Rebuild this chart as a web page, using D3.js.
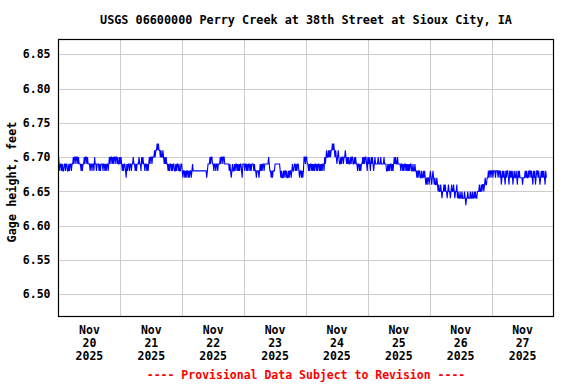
<!DOCTYPE html>
<html><head><meta charset="utf-8">
<script src="https://cdn.jsdelivr.net/npm/d3@7/dist/d3.min.js"></script>
<style>
html,body{margin:0;padding:0;background:#fff;}
text{font-family:"DejaVu Sans Mono","Liberation Mono",monospace;font-weight:bold;}
</style></head>
<body><svg id="chart" width="576" height="384"></svg>
<script>
const title = "USGS 06600000 Perry Creek at 38th Street at Sioux City, IA";
const yLabel = "Gage height, feet";
const footnote = "---- Provisional Data Subject to Revision ----";
const yTicks = [6.50, 6.55, 6.60, 6.65, 6.70, 6.75, 6.80, 6.85];
const dayLabels = [["Nov","20","2025"],["Nov","21","2025"],["Nov","22","2025"],["Nov","23","2025"],["Nov","24","2025"],["Nov","25","2025"],["Nov","26","2025"],["Nov","27","2025"]];
const startTime = Date.UTC(2025, 10, 20, 0, 0);
const endTime = Date.UTC(2025, 10, 28, 0, 0);
const stepMinutes = 15;
// gage height, feet, 15-minute values starting Nov 20 2025 00:00
const gageHeight = [
// Nov 20
6.70,6.69,6.68,6.69,6.69,6.68,6.69,6.68,6.68,6.69,6.69,6.68,6.69,6.69,6.68,6.68,6.69,6.68,6.69,6.69,6.68,6.69,6.69,
6.70,6.69,6.70,6.70,6.69,6.70,6.70,6.69,6.70,6.69,
6.69,6.69,6.68,6.69,6.68,6.69,6.69,
6.70,6.69,6.70,6.70,6.69,6.70,6.69,6.69,
6.69,6.68,6.69,6.69,6.68,6.69,6.69,6.68,
6.70,
6.69,6.69,6.68,6.69,6.69,6.69,6.68,6.69,6.68,6.69,6.69,6.69,6.68,6.69,6.69,6.68,6.69,6.68,6.69,6.69,6.68,6.69,
6.70,6.69,6.70,6.70,6.69,6.70,6.69,6.70,6.70,6.69,6.70,6.70,6.69,6.70,6.69,6.69,6.70,
// Nov 21
6.69,6.70,6.69,6.68,6.69,6.68,6.69,6.69,6.68,6.67,6.69,6.68,6.69,
6.69,6.68,6.69,6.69,6.68,6.69,6.69,6.70,6.69,6.69,6.68,6.69,6.68,6.69,6.69,6.69,6.70,6.69,6.69,6.68,
6.70,6.69,6.70,6.69,
6.69,6.68,6.69,6.69,6.68,6.69,6.68,6.69,
6.70,6.69,6.70,6.70,6.69,6.70,6.70,6.70,
6.71,6.70,6.71,6.71,6.72,6.71,6.72,6.71,
6.71,6.70,6.71,6.70,6.70,6.71,6.70,
6.69,6.70,6.69,6.70,6.69,
6.69,6.68,6.69,6.68,6.69,6.69,6.68,6.69,6.68,6.69,6.69,6.68,6.68,6.69,6.68,6.69,6.69,6.68,6.69,6.68,6.68,6.69,6.69,
// Nov 22
6.68,6.67,6.68,6.68,6.67,6.68,6.67,6.68,6.68,6.67,6.68,6.67,6.68,6.68,6.67,6.68,
6.69,6.68,6.68,6.68,6.68,6.68,6.68,6.68,6.68,6.68,6.68,6.68,6.68,6.68,6.68,6.68,6.68,6.68,6.68,6.68,6.68,6.68,6.67,
6.68,6.69,6.69,6.69,6.70,6.69,6.70,6.70,6.69,6.69,6.68,6.69,6.69,6.68,6.69,6.69,6.68,6.69,6.69,6.69,6.70,6.69,6.70,6.70,6.69,6.70,6.70,
6.69,6.69,6.69,6.69,6.69,6.69,6.69,
6.68,6.69,6.68,6.67,6.68,6.69,6.68,6.68,
6.69,6.68,6.69,6.69,6.68,6.69,6.68,6.69,6.68,6.69,6.69,6.68,6.67,6.69,6.69,
// Nov 23
6.69,6.68,6.69,6.69,6.68,6.69,6.68,6.69,6.69,6.68,6.69,6.68,6.69,6.69,6.69,6.68,6.69,
6.68,6.68,6.67,6.68,6.68,6.68,6.67,6.68,
6.69,6.68,6.69,6.68,6.69,6.69,6.68,6.69,
6.69,6.69,6.69,6.69,6.69,6.70,6.69,
6.68,6.68,6.67,6.68,6.67,6.68,6.68,6.68,
6.69,6.69,6.69,6.69,6.69,6.69,6.69,6.69,
6.68,6.67,6.68,6.67,6.67,6.68,6.67,6.68,6.68,6.67,6.68,6.67,6.67,6.68,6.67,6.68,6.68,6.67,
6.68,6.69,6.68,6.68,6.69,6.69,6.68,6.69,6.68,6.69,6.69,
6.68,6.67,6.68,6.68,6.67,6.68,6.67,6.68,
6.70,6.70,6.69,
// Nov 24
6.70,6.70,6.69,
6.69,6.68,6.69,6.68,6.69,6.69,6.68,6.69,6.68,6.69,6.68,6.69,6.69,6.68,6.69,6.68,6.69,6.69,6.68,6.69,6.68,6.69,6.68,6.69,6.69,6.68,
6.70,6.69,6.70,6.71,6.70,6.70,6.71,6.70,
6.71,6.70,6.71,6.71,6.72,6.71,6.72,6.71,
6.70,6.71,6.70,6.69,6.70,6.71,6.70,6.69,
6.69,6.70,6.69,6.70,6.70,6.69,6.70,
6.70,6.71,6.70,
6.69,6.70,6.69,6.70,6.69,6.69,6.70,6.69,6.70,6.70,6.69,6.69,6.70,6.69,6.70,6.69,
6.69,6.68,6.69,6.69,6.68,6.69,6.68,6.69,6.69,
6.70,6.69,6.70,6.69,6.70,6.70,6.69,6.68,
// Nov 25
6.70,6.69,6.70,6.69,6.68,6.70,6.69,6.70,6.69,6.68,6.69,6.70,6.69,6.69,
6.69,6.69,6.70,6.69,6.69,6.69,6.70,6.69,6.69,6.69,6.69,6.70,6.69,6.69,6.69,
6.68,6.68,6.69,6.68,6.69,6.68,6.69,6.69,6.68,6.69,6.68,6.69,6.70,6.69,
6.70,6.69,6.69,6.70,6.69,6.69,6.69,6.69,
6.68,6.69,6.69,6.68,6.69,6.68,6.69,6.69,6.68,6.69,6.68,6.69,6.68,6.69,6.68,6.69,6.69,6.68,6.68,6.69,6.68,6.68,6.69,
6.68,6.68,6.67,6.68,6.67,6.68,6.68,6.67,
6.67,6.68,6.67,6.67,6.68,6.67,6.68,6.67,
6.66,6.67,6.66,6.67,6.67,6.66,
// Nov 26
6.67,6.68,6.67,6.66,6.67,6.68,6.67,6.66,6.67,6.66,6.66,6.67,
6.66,6.65,6.66,6.65,6.65,6.66,6.65,6.64,6.65,6.65,6.66,
6.65,6.66,6.65,6.65,6.64,6.65,6.66,6.65,6.65,6.64,6.65,6.66,6.65,6.65,6.66,6.65,6.64,6.65,6.65,6.66,
6.64,6.65,6.64,6.64,6.65,6.64,6.64,6.65,6.64,6.64,6.64,6.65,6.64,6.63,6.64,6.64,6.65,6.64,6.64,6.64,6.65,6.64,6.64,
6.65,6.64,6.64,6.65,6.64,6.65,6.64,6.64,6.65,6.65,
6.65,6.66,6.65,6.65,6.66,6.65,6.66,6.66,6.65,6.66,6.67,6.66,6.66,6.67,
6.67,6.68,6.67,6.68,6.68,6.67,
// Nov 27
6.68,6.68,6.67,6.68,6.68,6.68,6.67,6.68,6.68,6.68,6.67,6.68,6.68,6.67,6.68,
6.66,6.67,6.68,6.67,6.68,6.67,6.66,6.68,6.67,6.68,
6.68,6.67,6.66,6.68,6.67,6.68,6.67,6.68,6.66,6.67,
6.68,6.67,6.67,6.68,6.67,6.66,6.68,6.67,6.68,6.67,
6.67,6.67,6.67,6.66,6.67,6.67,6.67,6.68,6.67,6.68,
6.67,6.67,6.68,6.67,6.68,6.68,6.67,6.68,6.67,6.66,
6.68,6.67,6.68,6.66,6.67,6.68,6.68,6.67,6.68,6.67,
6.66,6.67,6.68,6.67,6.68,6.67,6.68,6.67,6.66,6.68,
6.67
];

const svg = d3.select("#chart");
const plotLeft = 58.5, plotRight = 553.5, plotTop = 39.5, plotBottom = 316.5;

const x = d3.scaleUtc().domain([startTime, endTime]).range([plotLeft, plotRight]);
const y = d3.scaleLinear().domain([6.46835, 6.8716]).range([plotBottom - 0.5, plotTop]);

// grid
const gridY = svg.append("g").attr("transform", `translate(${plotLeft},0)`)
  .call(d3.axisLeft(y).tickValues(yTicks).tickSize(-(plotRight-plotLeft)).tickFormat(""));
gridY.select(".domain").remove();
gridY.selectAll("line").attr("stroke", "#cccccc").attr("stroke-width", 1).attr("shape-rendering", "crispEdges");

const dayBounds = d3.utcDay.range(new Date(startTime + 86400000), new Date(endTime));
const gridX = svg.append("g").attr("transform", `translate(0,${plotBottom})`)
  .call(d3.axisBottom(x).tickValues(dayBounds).tickSize(-(plotBottom-plotTop)).tickFormat(""));
gridX.select(".domain").remove();
gridX.selectAll("line").attr("stroke", "#cccccc").attr("stroke-width", 1).attr("shape-rendering", "crispEdges");

// y tick labels
const yAxis = svg.append("g").attr("transform", `translate(${plotLeft},0)`)
  .call(d3.axisLeft(y).tickValues(yTicks).tickSize(0).tickPadding(8).tickFormat(d3.format(".2f")));
yAxis.select(".domain").remove();
yAxis.selectAll("text").attr("font-size", 11.5).attr("fill", "#000")
  .style("font-family", '"DejaVu Sans Mono",monospace').style("font-weight", "bold");

// x labels (day centres)
const dayStarts = d3.utcDay.range(new Date(startTime), new Date(endTime));
const xl = svg.append("g");
dayStarts.forEach((d, i) => {
  const cx = x(new Date(+d + 43200000));
  const t = xl.append("text").attr("x", cx).attr("y", 334).attr("text-anchor", "middle")
    .attr("font-size", 11.5).attr("fill", "#000");
  dayLabels[i].forEach((s, k) => {
    t.append("tspan").attr("x", cx).attr("y", 334 + k * 13).text(s);
  });
});

// data line
const data = gageHeight.map((v, i) => ({t: new Date(startTime + i * stepMinutes * 60000), v}));
svg.append("path").datum(data)
  .attr("fill", "none").attr("stroke", "#0000ff").attr("stroke-width", 1.1)
  .attr("d", d3.line().x(d => x(d.t)).y(d => y(d.v)));

// frame
svg.append("rect").attr("x", plotLeft).attr("y", plotTop).attr("width", plotRight-plotLeft).attr("height", plotBottom-plotTop)
  .attr("fill", "none").attr("stroke", "#000").attr("stroke-width", 1.2);

// title
svg.append("text").attr("x", 306).attr("y", 24).attr("text-anchor", "middle")
  .attr("font-size", 11.8).attr("fill", "#000").text(title);

// y label
svg.append("text").attr("transform", "translate(16,182) rotate(-90)").attr("text-anchor", "middle")
  .attr("font-size", 11.8).attr("fill", "#000").text(yLabel);

// footnote
svg.append("text").attr("x", 306).attr("y", 379).attr("text-anchor", "middle")
  .attr("font-size", 11.5).attr("fill", "#ff0000").text(footnote);
</script></body></html>
